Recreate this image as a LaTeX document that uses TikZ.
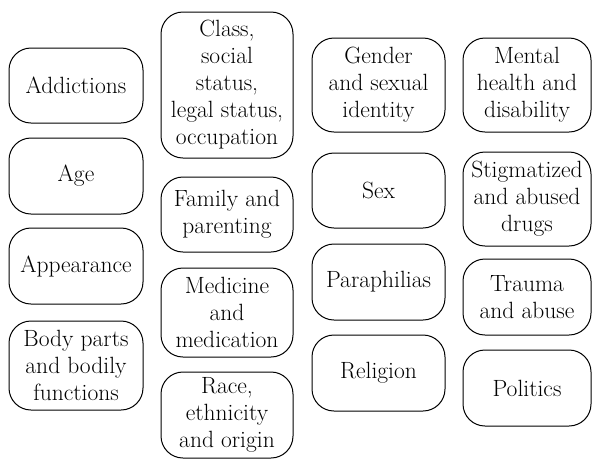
\documentclass[tikz,border=0pt]{standalone}
\begin{document}
\begin{tikzpicture}[x=1pt,y=1pt,
  topic/.style={draw=black, line width=1pt, rounded corners=22pt, align=center,
    inner sep=0pt, font=\fontsize{23.5}{27}\selectfont}]
\useasboundingbox (0,0) rectangle (592,-459);
% column 1
\node[topic, minimum width=134pt, minimum height=75pt] (add) at (76,-85.5) {Addictions};
\node[topic, minimum width=134pt, minimum height=76pt] (age) at (76,-176) {Age};
\node[topic, minimum width=134pt, minimum height=76pt] (app) at (76,-266) {Appearance};
\node[topic, minimum width=134pt, minimum height=89pt] (body) at (76,-365.5) {Body parts\\and bodily\\functions};
% column 2
\node[topic, minimum width=132pt, minimum height=146pt] (class) at (227,-85) {Class,\\social\\status,\\legal status,\\occupation};
\node[topic, minimum width=132pt, minimum height=75pt] (fam) at (227,-214.5) {Family and\\parenting};
\node[topic, minimum width=132pt, minimum height=89pt] (med) at (227,-312.5) {Medicine\\and\\medication};
\node[topic, minimum width=132pt, minimum height=86pt] (race) at (227,-415) {Race,\\ethnicity\\and origin};
% column 3
\node[topic, minimum width=133pt, minimum height=94pt] (gen) at (378.5,-85) {Gender\\and sexual\\identity};
\node[topic, minimum width=133pt, minimum height=75pt] (sex) at (378.5,-190.5) {Sex};
\node[topic, minimum width=133pt, minimum height=76pt] (para) at (378.5,-282) {Paraphilias};
\node[topic, minimum width=133pt, minimum height=76pt] (rel) at (378.5,-373) {Religion};
% column 4
\node[topic, minimum width=128pt, minimum height=94pt] (ment) at (527,-85) {Mental\\health and\\disability};
\node[topic, minimum width=128pt, minimum height=94pt] (stig) at (527,-199) {Stigmatized\\and abused\\drugs};
\node[topic, minimum width=128pt, minimum height=76pt] (trau) at (527,-297) {Trauma\\and abuse};
\node[topic, minimum width=128pt, minimum height=76pt] (pol) at (527,-388) {Politics};
\end{tikzpicture}
\end{document}
